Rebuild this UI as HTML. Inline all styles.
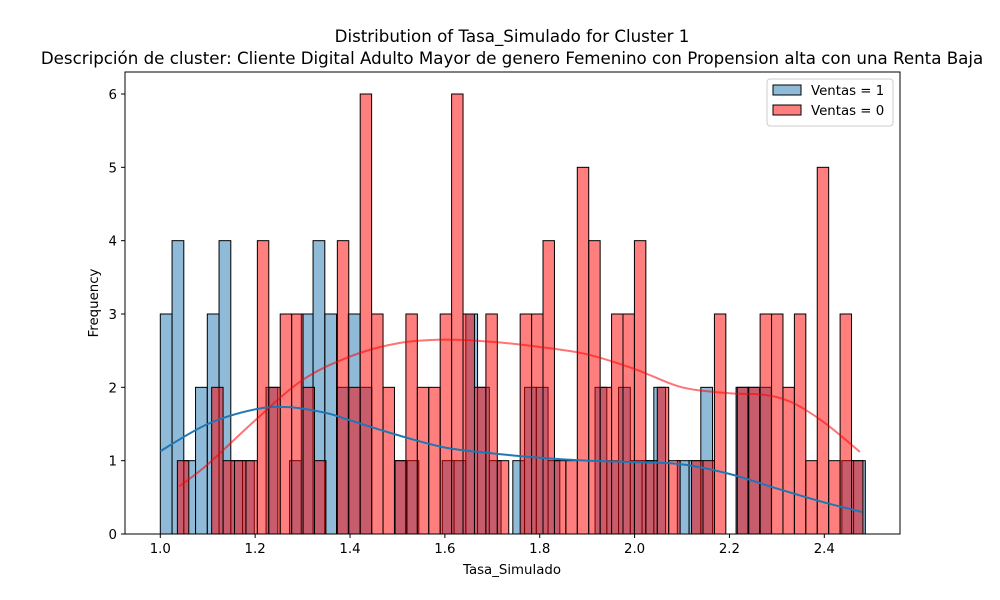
<!DOCTYPE html>
<html><head><meta charset="utf-8">
<style>
html,body{margin:0;padding:0;background:#fff;}
svg{display:block;font-family:"DejaVu Sans","Liberation Sans",sans-serif;}
</style></head>
<body>
<svg id="chart" width="1000" height="600" viewBox="0 0 1000 600" xmlns="http://www.w3.org/2000/svg">
<rect width="1000" height="600" fill="#fff"/>
<text x="512" y="42" text-anchor="middle" font-size="16.67">Distribution of Tasa_Simulado for Cluster 1</text>
<text x="512" y="64" text-anchor="middle" font-size="16.67">Descripción de cluster: Cliente Digital Adulto Mayor de genero Femenino con Propension alta con una Renta Baja</text>
<g id="bars"></g>
<g id="kde"></g>
<g id="axes"></g>
<text x="512" y="574" text-anchor="middle" font-size="13.33">Tasa_Simulado</text>
<text transform="translate(98,303) rotate(-90)" text-anchor="middle" font-size="13.33">Frequency</text>
<g>
<rect x="767" y="79" width="126" height="47" rx="3" fill="#fff" stroke="#ccc" fill-opacity="0.8"/>
<rect x="773" y="85" width="28" height="10" fill="rgba(31,119,180,0.5)" stroke="#000"/>
<text x="811" y="95" font-size="13.33">Ventas = 1</text>
<rect x="773" y="105" width="28" height="10" fill="rgba(255,0,0,0.5)" stroke="#000"/>
<text x="811" y="115" font-size="13.33">Ventas = 0</text>
</g>
</svg>
<script>
const blueStart = 1.0, blueEnd = 2.4865;
const redStart = 1.036, redEnd = 2.4815;
const blueCounts = [3,4,1,2,3,4,1,1,0,2,0,1,3,4,3,2,3,2,0,0,1,1,0,0,1,1,3,2,1,0,1,2,2,1,0,0,0,2,1,2,1,1,2,0,1,1,2,0,0,2,2,2,0,0,0,0,0,0,1,1];
const redCounts = [1,0,0,2,1,1,1,4,2,3,3,2,1,0,4,2,6,3,2,1,3,2,2,3,6,3,2,3,1,0,3,3,4,1,1,5,4,2,3,3,4,1,2,1,0,1,1,3,0,2,2,3,3,2,3,1,5,1,3,1];
const blueKdeX = [1.0,1.1,1.2,1.27,1.35,1.4,1.5,1.6,1.7,1.8,1.9,2.0,2.1,2.2,2.3,2.4,2.48];
const blueKdeY = [1.13,1.5,1.7,1.73,1.65,1.55,1.35,1.18,1.1,1.04,1.0,0.98,0.95,0.82,0.62,0.43,0.3];
const redKdeX = [1.04,1.1,1.2,1.3,1.4,1.5,1.6,1.7,1.8,1.9,2.0,2.1,2.2,2.27,2.33,2.4,2.475];
const redKdeY = [0.65,0.95,1.55,2.1,2.42,2.6,2.65,2.62,2.55,2.45,2.25,2.0,1.92,1.9,1.8,1.52,1.12];
const xTicks = [1.0,1.2,1.4,1.6,1.8,2.0,2.2,2.4];
const yTicks = [0,1,2,3,4,5,6];

const L=125,R=900,T=72,B=534;
function xs(v){return 160.3+(v-1.0)*(824.3-160.3)/1.4;}
function ys(v){return 534-v*(534-94)/6;}
const NS="http://www.w3.org/2000/svg";
function mk(tag,attrs,parent){const e=document.createElementNS(NS,tag);for(const k in attrs)e.setAttribute(k,attrs[k]);parent.appendChild(e);return e;}
const bars=document.getElementById('bars');
function drawHist(counts,start,end,fill,name){
  const w=(end-start)/counts.length;
  counts.forEach((c,i)=>{
    if(c<=0)return;
    const x0=xs(start+i*w),x1=xs(start+(i+1)*w);
    const r=mk('rect',{x:x0,y:ys(c),width:x1-x0,height:ys(0)-ys(c),fill:fill,stroke:'#000','stroke-width':1},bars);
    
    
  });
}
drawHist(blueCounts,blueStart,blueEnd,'rgba(31,119,180,0.5)','ventas-1');
drawHist(redCounts,redStart,redEnd,'rgba(255,0,0,0.5)','ventas-0');

function smoothPath(xa,ya){
  const p=xa.map((x,i)=>[xs(x),ys(ya[i])]);
  let d='M'+p[0][0]+','+p[0][1];
  for(let i=0;i<p.length-1;i++){
    const p0=p[Math.max(0,i-1)],p1=p[i],p2=p[i+1],p3=p[Math.min(p.length-1,i+2)];
    const c1=[p1[0]+(p2[0]-p0[0])/6,p1[1]+(p2[1]-p0[1])/6];
    const c2=[p2[0]-(p3[0]-p1[0])/6,p2[1]-(p3[1]-p1[1])/6];
    d+=' C'+c1+' '+c2+' '+p2;
  }
  return d;
}
const kde=document.getElementById('kde');
const kb=mk('path',{d:smoothPath(blueKdeX,blueKdeY),fill:'none',stroke:'#1f77b4','stroke-width':2},kde);


const kr=mk('path',{d:smoothPath(redKdeX,redKdeY),fill:'none',stroke:'rgba(255,0,0,0.55)','stroke-width':2},kde);



const ax=document.getElementById('axes');
const frame=mk('rect',{x:L,y:T,width:R-L,height:B-T,fill:'none',stroke:'#000','stroke-width':1},ax);


xTicks.forEach(v=>{
  const x=xs(v);
  const t=mk('line',{x1:x,x2:x,y1:B,y2:B+4,stroke:'#000'},ax);
  
  
  const l=mk('text',{x:x,y:B+19,'text-anchor':'middle','font-size':13.33},ax);
  l.textContent=v.toFixed(1);
  
  
});
yTicks.forEach(v=>{
  const y=ys(v);
  const t=mk('line',{x1:L-4,x2:L,y1:y,y2:y,stroke:'#000'},ax);
  
  
  const l=mk('text',{x:L-8,y:y+5,'text-anchor':'end','font-size':13.33},ax);
  l.textContent=String(v);
  
  
});
</script>
</body></html>
